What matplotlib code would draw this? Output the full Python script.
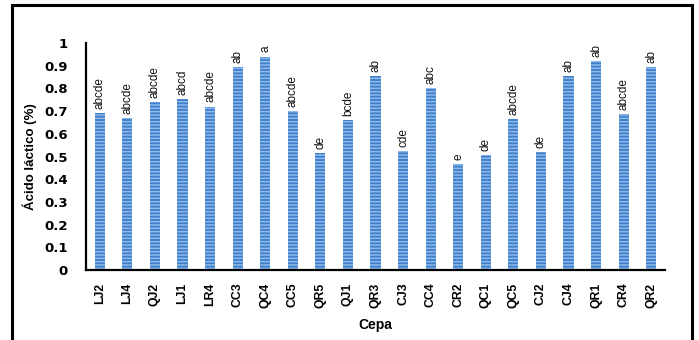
import matplotlib
matplotlib.use("Agg")
import matplotlib.pyplot as plt
from matplotlib.patches import Rectangle

cepas = ["LJ2", "LJ4", "QJ2", "LJ1", "LR4", "CC3", "QC4", "CC5", "QR5", "QJ1", "QR3",
         "CJ3", "CC4", "CR2", "QC1", "QC5", "CJ2", "CJ4", "QR1", "CR4", "QR2"]
acido_lactico = [0.69, 0.67, 0.74, 0.753, 0.72, 0.894, 0.94, 0.70, 0.515, 0.66, 0.855,
                 0.524, 0.80, 0.467, 0.507, 0.665, 0.52, 0.855, 0.92, 0.687, 0.894]
letras = ["abcde", "abcde", "abcde", "abcd", "abcde", "ab", "a", "abcde", "de", "bcde", "ab",
          "cde", "abc", "e", "de", "abcde", "de", "ab", "ab", "abcde", "ab"]
yticks = [0, 0.1, 0.2, 0.3, 0.4, 0.5, 0.6, 0.7, 0.8, 0.9, 1]
ytick_labels = ["0", "0.1", "0.2", "0.3", "0.4", "0.5", "0.6", "0.7", "0.8", "0.9", "1"]

plt.rcParams["hatch.linewidth"] = 1.1
plt.rcParams["font.family"] = ["Liberation Sans", "DejaVu Sans"]

fig = plt.figure(figsize=(6.99, 3.40), dpi=100)
fig.patch.set_facecolor("white")
ax = fig.add_axes([86 / 699, 1 - 270 / 340, 579 / 699, 227 / 340])

x = range(len(cepas))
bars = ax.bar(x, acido_lactico, width=0.37, color="#3f80cc", linewidth=0, hatch="-----")
for b in bars:
    b.set_edgecolor("#8fb9ea")

for xi, v, lab in zip(x, acido_lactico, letras):
    ax.annotate(lab, (xi, v), xytext=(0, 3), textcoords="offset points",
                rotation=90, ha="center", va="bottom", fontsize=8.5,
                color="#111111", annotation_clip=False)

ax.set_xlim(-0.5, len(cepas) - 0.5)
ax.set_ylim(0, 1)
ax.set_yticks(yticks)
ax.set_yticklabels(ytick_labels, fontfamily="DejaVu Sans", fontweight="bold", fontsize=9.5)
ax.set_xticks(list(x))
ax.set_xticklabels(cepas, rotation=90, fontweight="bold", fontsize=8.8)
ax.tick_params(axis="y", length=0, pad=13)
ax.tick_params(axis="x", length=0, pad=9)

for s in ("top", "right"):
    ax.spines[s].set_visible(False)
ax.spines["left"].set_linewidth(1.6)
ax.spines["bottom"].set_linewidth(1.6)

ax.set_ylabel("Ácido láctico (%)", fontweight="bold", fontsize=9.5, labelpad=2)
ax.yaxis.set_label_coords(-0.085, 0.5)
ax.set_xlabel("Cepa", fontweight="bold", fontsize=10, labelpad=2)
ax.xaxis.set_label_coords(0.5, -0.21)

# outer frame around the figure
fig.patches.append(Rectangle((12 / 699, -0.05), 680 / 699, 1.05 - 5 / 340,
                             transform=fig.transFigure, fill=False,
                             edgecolor="black", linewidth=2.2))

fig.savefig("out.png", dpi=100)
